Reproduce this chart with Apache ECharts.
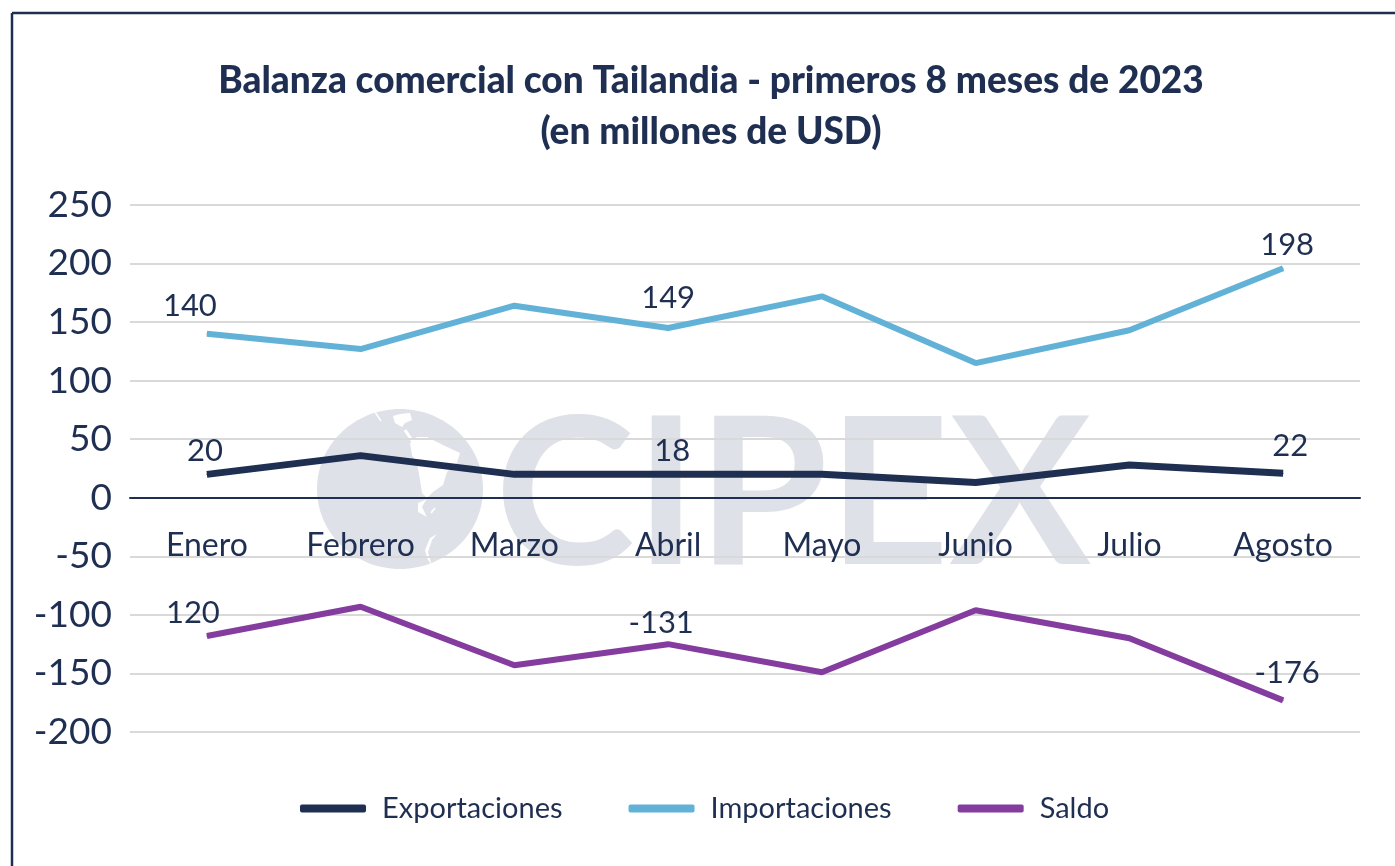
<!DOCTYPE html>
<html>
<head>
<meta charset="utf-8">
<title>Balanza comercial con Tailandia</title>
<script src="https://cdn.jsdelivr.net/npm/echarts@6/dist/echarts.min.js"></script>
<style>
html, body { margin: 0; padding: 0; background: #fff; }
#main { width: 1395px; height: 866px; }
</style>
</head>
<body>
<div id="main"></div>
<script>
// values
const months = ["Enero", "Febrero", "Marzo", "Abril", "Mayo", "Junio", "Julio", "Agosto"];
const exportaciones = [20, 36, 20, 20, 20, 13, 28, 21];
const importaciones = [140, 127, 164, 145, 172, 115, 143, 196];
const saldo = [-118, -93, -143, -125, -149, -96, -120, -173];

// the printed labels do not always match the line, keep them as printed
const exportLabels = ["20", "", "", "18", "", "", "", "22"];
const importLabels = ["140", "", "", "149", "", "", "", "198"];
const saldoLabels = ["120", "", "", "-131", "", "", "", "-176"];

const navy = "#1f2f52";
const font = "Lato";

function withLabels(values, labels, offset) {
    return values.map((v, i) => ({
        value: v,
        label: {
            show: labels[i] !== "",
            formatter: labels[i],
            offset: offset[i] || [0, 0]
        }
    }));
}

const myChart = echarts.init(document.getElementById("main"));

const seriesLabel = { show: true, position: "top", fontFamily: font, fontSize: 31, color: navy };

const option = {
    backgroundColor: "#fff",
    animation: false,
    textStyle: { fontFamily: font, color: navy },
    title: {
        text: "Balanza comercial con Tailandia - primeros 8 meses de 2023\n(en millones de USD)",
        left: 706,
        top: 51,
        textAlign: "center",
        textStyle: { fontFamily: font, fontWeight: 900, fontSize: 37, lineHeight: 51, color: navy }
    },
    legend: {
        left: 295,
        top: 789,
        icon: "roundRect",
        itemWidth: 66,
        itemHeight: 8,
        itemGap: 66,
        textStyle: { fontFamily: font, fontSize: 29, color: navy, padding: [0, 0, 0, 11] },
        data: ["Exportaciones", "Importaciones", "Saldo"]
    },
    grid: { left: 130, right: 35, top: 205, bottom: 134 },
    xAxis: {
        type: "category",
        data: months,
        axisLine: { lineStyle: { color: navy, width: 2 } },
        axisTick: { show: false },
        // v6 keeps the labels at the grid bottom, pull them up under the zero line
        axisLabel: { margin: -202, fontFamily: font, fontSize: 32, color: navy }
    },
    yAxis: {
        type: "value",
        min: -200,
        max: 250,
        interval: 50,
        axisLine: { show: false },
        axisTick: { show: false },
        axisLabel: { margin: 18, fontFamily: font, fontSize: 37, color: navy, padding: [6, 0, 0, 0] },
        splitLine: { lineStyle: { color: "#d9d9d9", width: 2 } }
    },
    series: [
        {
            name: "Exportaciones",
            type: "line",
            symbol: "circle",
            symbolSize: 1,
            lineStyle: { color: navy, width: 7 },
            itemStyle: { color: navy },
            label: seriesLabel,
            data: withLabels(exportaciones, exportLabels, [[-2, -2], 0, 0, [4, -2], 0, 0, 0, [7, -6]])
        },
        {
            name: "Importaciones",
            type: "line",
            symbol: "circle",
            symbolSize: 1,
            lineStyle: { color: "#62b2d8", width: 6 },
            itemStyle: { color: "#62b2d8" },
            label: seriesLabel,
            data: withLabels(importaciones, importLabels, [[-17, -7], 0, 0, [0, -9], 0, 0, 0, [4, -2]])
        },
        {
            name: "Saldo",
            type: "line",
            symbol: "circle",
            symbolSize: 1,
            lineStyle: { color: "#843c9f", width: 6 },
            itemStyle: { color: "#843c9f" },
            label: seriesLabel,
            data: withLabels(saldo, saldoLabels, [[-14, -2], 0, 0, [-7, 0], 0, 0, 0, [4, -6]])
        }
    ],
    graphic: [
        // frame, only the top and left edges show in the picture
        { type: "line", z: 10, shape: { x1: 12, y1: 13, x2: 1395, y2: 13 }, style: { stroke: navy, lineWidth: 2.5 } },
        { type: "line", z: 10, shape: { x1: 12, y1: 13, x2: 12, y2: 866 }, style: { stroke: navy, lineWidth: 2.5 } },
        // watermark
        { type: "ellipse", z: -10, shape: { cx: 400, cy: 489, rx: 83, ry: 80 }, style: { fill: "#dfe1e8" } },
        {
            type: "polygon", z: -9,
            shape: { points: [[393, 416], [400, 414], [410, 413], [412, 420], [405, 423], [402, 427], [395, 423]] },
            style: { fill: "#fff" }
        },
        { type: "polyline", z: -9, shape: { points: [[405, 430], [413, 442]] }, style: { stroke: "#fff", lineWidth: 3 } },
        {
            type: "polygon", z: -9,
            shape: { points: [[410, 443], [417, 437], [427, 437], [443, 445], [460, 453], [457, 463], [447, 472], [443, 485],
                [433, 492], [425, 500], [418, 503], [418, 512], [427, 517], [422, 507], [427, 498], [422, 493], [420, 480], [417, 463], [412, 455]] },
            style: { fill: "#fff" }
        },
        { type: "polyline", z: -9, shape: { points: [[435, 508], [431, 513]] }, style: { stroke: "#fff", lineWidth: 2 } },
        {
            type: "polygon", z: -9,
            shape: { points: [[437, 534], [430, 538], [425, 550], [427, 558], [432, 566], [428, 552], [432, 540]] },
            style: { fill: "#fff" }
        },
        { type: "polyline", z: -9, shape: { points: [[375, 412], [381, 421]] }, style: { stroke: "#fff", lineWidth: 1.5 } },
        {
            type: "text", z: -10, x: 495, y: 395, scaleX: 1.03,
            style: { text: "CIPEX", font: "700 205px Lato", fill: "#dfe1e8" }
        }
    ]
};

myChart.setOption(option);
</script>
</body>
</html>
